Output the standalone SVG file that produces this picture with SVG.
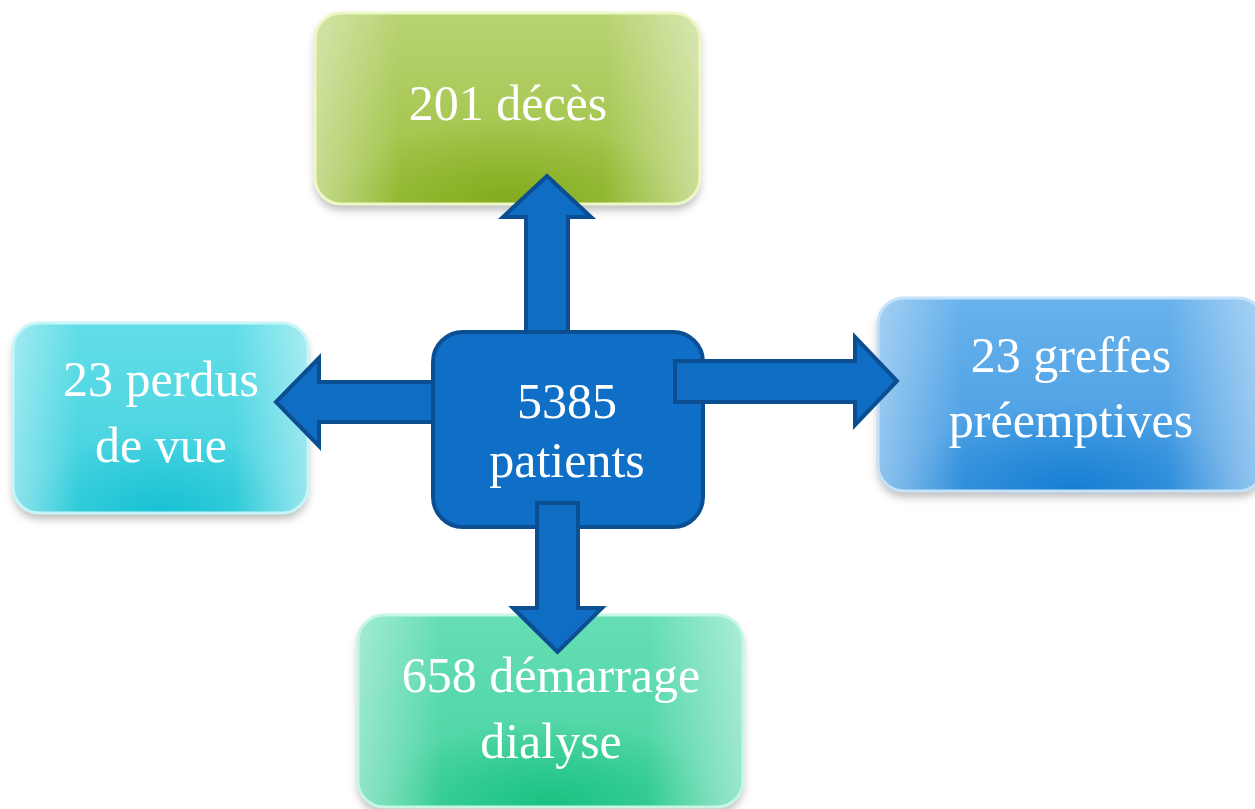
<svg xmlns="http://www.w3.org/2000/svg" width="1255" height="809" viewBox="0 0 1255 809">
<defs>
<style>
.lbl{font-family:"Liberation Serif","Times New Roman",serif;font-size:50px;fill:#ffffff;text-anchor:middle}
.arrow{fill:#106dc4;stroke:#0b4f92;stroke-width:4;stroke-linejoin:miter}
.edge{fill:url(#gEdge);stroke-width:3}
.dark{stroke:none}
</style>
<filter id="sh" x="-10%" y="-10%" width="120%" height="130%">
<feDropShadow dx="0" dy="6" stdDeviation="4" flood-color="#6a6a6a" flood-opacity="0.45"/>
</filter>
<linearGradient id="gEdge" x1="0" y1="0" x2="1" y2="0">
<stop offset="0" stop-color="#ffffff" stop-opacity="0.4"/>
<stop offset="0.22" stop-color="#ffffff" stop-opacity="0"/>
<stop offset="0.75" stop-color="#ffffff" stop-opacity="0"/>
<stop offset="1" stop-color="#ffffff" stop-opacity="0.45"/>
</linearGradient>
<linearGradient id="gGreen" x1="0" y1="0" x2="0" y2="1">
<stop offset="0" stop-color="#b8d372"/>
<stop offset="1" stop-color="#9cc03e"/>
</linearGradient>
<radialGradient id="dGreen" cx="0.5" cy="1" r="0.45">
<stop offset="0" stop-color="#82aa1c" stop-opacity="0.95"/>
<stop offset="1" stop-color="#82aa1c" stop-opacity="0"/>
</radialGradient>
<linearGradient id="gCyan" x1="0" y1="0" x2="0" y2="1">
<stop offset="0" stop-color="#62dee8"/>
<stop offset="1" stop-color="#40d0de"/>
</linearGradient>
<radialGradient id="dCyan" cx="0.5" cy="1" r="0.45">
<stop offset="0" stop-color="#16c1d2" stop-opacity="0.95"/>
<stop offset="1" stop-color="#16c1d2" stop-opacity="0"/>
</radialGradient>
<linearGradient id="gBlue" x1="0" y1="0" x2="0" y2="1">
<stop offset="0" stop-color="#68b2ec"/>
<stop offset="1" stop-color="#4299e1"/>
</linearGradient>
<radialGradient id="dBlue" cx="0.5" cy="1" r="0.45">
<stop offset="0" stop-color="#137dd1" stop-opacity="0.95"/>
<stop offset="1" stop-color="#137dd1" stop-opacity="0"/>
</radialGradient>
<linearGradient id="gMint" x1="0" y1="0" x2="0" y2="1">
<stop offset="0" stop-color="#66deb4"/>
<stop offset="1" stop-color="#46d2a0"/>
</linearGradient>
<radialGradient id="dMint" cx="0.5" cy="1" r="0.45">
<stop offset="0" stop-color="#16c17f" stop-opacity="0.95"/>
<stop offset="1" stop-color="#16c17f" stop-opacity="0"/>
</radialGradient>
</defs>
<rect width="1255" height="809" fill="#ffffff"/>

<g id="node-deces">
<rect x="315" y="13" width="385" height="191" rx="26" fill="url(#gGreen)" filter="url(#sh)"/>
<rect class="dark" x="315" y="13" width="385" height="191" rx="26" fill="url(#dGreen)"/>
<rect class="edge" x="315" y="13" width="385" height="191" rx="26" stroke="#eef7c6"/>
<text class="lbl" x="508" y="120">201 décès</text>
</g>

<g id="node-perdus">
<rect x="13" y="323" width="295" height="190" rx="26" fill="url(#gCyan)" filter="url(#sh)"/>
<rect class="dark" x="13" y="323" width="295" height="190" rx="26" fill="url(#dCyan)"/>
<rect class="edge" x="13" y="323" width="295" height="190" rx="26" stroke="#c8f5f9"/>
<text class="lbl" x="161" y="396">23 perdus</text>
<text class="lbl" x="161" y="462">de vue</text>
</g>

<g id="node-greffes">
<rect x="878" y="298" width="386" height="193" rx="26" fill="url(#gBlue)" filter="url(#sh)"/>
<rect class="dark" x="878" y="298" width="386" height="193" rx="26" fill="url(#dBlue)"/>
<rect class="edge" x="878" y="298" width="386" height="193" rx="26" stroke="#c4e2fa"/>
<text class="lbl" x="1071" y="372">23 greffes</text>
<text class="lbl" x="1071" y="437">préemptives</text>
</g>

<g id="node-dialyse">
<rect x="358" y="615" width="385" height="192" rx="26" fill="url(#gMint)" filter="url(#sh)"/>
<rect class="dark" x="358" y="615" width="385" height="192" rx="26" fill="url(#dMint)"/>
<rect class="edge" x="358" y="615" width="385" height="192" rx="26" stroke="#c6f7e4"/>
<text class="lbl" x="551" y="692">658 démarrage</text>
<text class="lbl" x="551" y="758">dialyse</text>
</g>

<g id="node-patients">
<rect x="433" y="332" width="270" height="195" rx="30" fill="#0f6fc6" stroke="#0b4f92" stroke-width="4"/>
<text class="lbl" x="567" y="418">5385</text>
<text class="lbl" x="567" y="477">patients</text>
</g>

<g id="connectors">
<path class="arrow" d="M526,332 L526,217 L503,217 L547,176 L591,217 L568,217 L568,332 Z"/>
<path class="arrow" d="M433,382 L319,382 L319,358 L276,402 L319,446 L319,422 L433,422 Z"/>
<path class="arrow" d="M675,361 L855,361 L855,337 L897,381 L855,425 L855,402 L675,402 Z"/>
<path class="arrow" d="M537,503 L537,608 L513,608 L557.5,652 L602,608 L578,608 L578,503 Z"/>
</g>
</svg>
